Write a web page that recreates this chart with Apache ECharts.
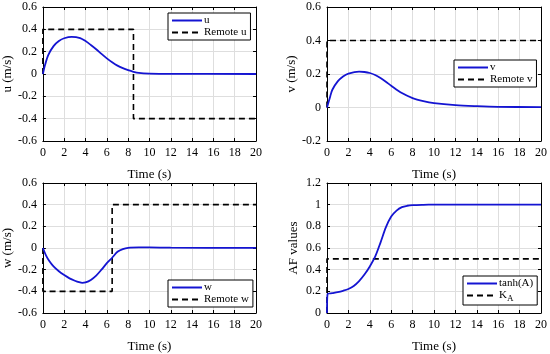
<!DOCTYPE html>
<html><head><meta charset="utf-8">
<script src="https://cdn.jsdelivr.net/npm/echarts@6/dist/echarts.min.js"></script>
<style>html,body{margin:0;padding:0;background:#fff}#c{width:550px;height:354px}</style>
</head><body><div id="c"></div>
<script>
// ---- data ----
var xTicks = [0,2,4,6,8,10,12,14,16,18,20];
var uT = [0,0.2,0.5,1,1.5,2,2.7,3.5,4,4.5,5,5.5,6,6.5,7,7.5,8,8.5,9,10,12,20];
var uV = [0,0.08,0.17,0.25,0.295,0.32,0.333,0.322,0.295,0.26,0.222,0.18,0.14,0.105,0.075,0.052,0.034,0.02,0.01,0.004,0.001,0];
var remoteUT = [0,0,8.5,8.5,20];
var remoteUV = [0,0.4,0.4,-0.4,-0.4];
var vT = [0,0.3,0.5,1,1.5,2,3,3.5,4,4.5,5,5.5,6,7,8,9,10,12,14,16,20];
var vV = [0,0.066,0.106,0.156,0.185,0.202,0.214,0.212,0.206,0.194,0.176,0.154,0.13,0.086,0.056,0.038,0.026,0.014,0.008,0.004,0.002];
var remoteVT = [0,0,20];
var remoteVV = [0,0.4,0.4];
var wT = [0,0.3,0.6,1,1.5,2,2.5,3,3.4,3.7,4,4.5,5,5.5,6,6.5,7,7.5,8,9,10,12,20];
var wV = [0,-0.07,-0.12,-0.17,-0.215,-0.25,-0.28,-0.302,-0.316,-0.322,-0.318,-0.295,-0.255,-0.2,-0.14,-0.09,-0.035,-0.01,0.002,0.005,0.005,0.003,0.001];
var remoteWT = [0,0,6.5,6.5,20];
var remoteWV = [0,-0.4,-0.4,0.4,0.4];
var aT = [0,0.05,0.5,1,1.5,2,2.5,3,3.5,4,4.5,5,5.5,6,6.5,7,7.5,8,9,10,20];
var aV = [0,0.175,0.183,0.192,0.205,0.222,0.25,0.295,0.355,0.43,0.52,0.65,0.79,0.89,0.945,0.977,0.99,0.996,0.999,1,1];
var kT = [0,0,20];
var kV = [0,0.5,0.5];
var yRanges = [[-0.6,0.6,0.2],[-0.2,0.6,0.2],[-0.6,0.6,0.2],[0,1.2,0.2]];
var yNames = ['u (m/s)','v (m/s)','w (m/s)','AF values'];

function pts(t,v){return t.map(function(x,i){return [x,v[i]];});}
var FONT = 'Liberation Serif';
var grids = [
  {left:41,top:7,width:215,height:134},
  {left:327,top:7,width:215,height:134},
  {left:41,top:183,width:215,height:132},
  {left:327,top:183,width:215,height:132}
];
var xAxes=[], yAxes=[];
grids.forEach(function(g,i){
  var common = {type:'value',gridIndex:i,min:0,max:20,interval:2,
    axisLine:{show:true,onZero:false,lineStyle:{color:'#000',width:1}},
    axisTick:{show:true,inside:true,length:3,lineStyle:{color:'#000'}}};
  xAxes.push(Object.assign({},common,{position:'bottom',name:'Time (s)',nameLocation:'middle',nameGap:27,
    nameTextStyle:{fontFamily:FONT,fontSize:13,color:'#000'},
    axisLabel:{fontFamily:FONT,fontSize:12,color:'#000',margin:6},
    splitLine:{show:true,lineStyle:{color:'#dedede',width:1}}}));
  xAxes.push(Object.assign({},common,{position:'top',axisLabel:{show:false},splitLine:{show:false}}));
  var r = yRanges[i];
  var ycommon = {type:'value',gridIndex:i,min:r[0],max:r[1],interval:r[2],
    axisLine:{show:true,onZero:false,lineStyle:{color:'#000',width:1}},
    axisTick:{show:true,inside:true,length:3,lineStyle:{color:'#000'}}};
  yAxes.push(Object.assign({},ycommon,{position:'left',name:yNames[i],nameLocation:'middle',nameGap:27,
    nameTextStyle:{fontFamily:FONT,fontSize:13,color:'#000'},
    axisLabel:{fontFamily:FONT,fontSize:12,color:'#000',margin:6,
      formatter:function(v){return String(Math.round(v*10)/10);}},
    splitLine:{show:true,lineStyle:{color:'#dedede',width:1}}}));
  yAxes.push(Object.assign({},ycommon,{position:'right',axisLabel:{show:false},splitLine:{show:false}}));
});
function solid(name,i,t,v){return {name:name,type:'line',xAxisIndex:2*i,yAxisIndex:2*i,data:pts(t,v),
  symbol:'none',smooth:0.3,lineStyle:{color:'#1414d2',width:1.8},itemStyle:{color:'#1414d2'},z:3};}
function dashed(name,i,t,v){return {name:name,type:'line',xAxisIndex:2*i,yAxisIndex:2*i,data:pts(t,v),
  symbol:'none',lineStyle:{color:'#000',width:1.6,type:[6,4]},itemStyle:{color:'#000'},z:2};}
var series = [
  solid('u',0,uT,uV), dashed('Remote u',0,remoteUT,remoteUV),
  solid('v',1,vT,vV), dashed('Remote v',1,remoteVT,remoteVV),
  solid('w',2,wT,wV), dashed('Remote w',2,remoteWT,remoteWV),
  solid('tanh(A)',3,aT,aV), dashed('K_A',3,kT,kV)
];
function leg(names,left,top){return {data:names,left:left,top:top,orient:'vertical',
  backgroundColor:'#fff',borderColor:'#000',borderWidth:1,padding:[2,4,2,3],itemGap:1,
  itemWidth:30,itemHeight:12,itemStyle:{opacity:0},
  textStyle:{fontFamily:FONT,fontSize:11,color:'#000',padding:[0,0,0,-3],
    rich:{sub:{fontFamily:FONT,fontSize:9,verticalAlign:'bottom',padding:[6,0,0,0]}}},
  formatter:function(n){return n==='K_A'?'K{sub|A}':n;}};}
var option = {
  animation:false,
  backgroundColor:'#fff',
  grid:grids,
  xAxis:xAxes,
  yAxis:yAxes,
  legend:[
    leg(['u','Remote u'],168,13),
    leg(['v','Remote v'],454,60),
    leg(['w','Remote w'],168,280),
    leg(['tanh(A)','K_A'],463,276)
  ],
  series:series
};
var chart = echarts.init(document.getElementById('c'),null,{renderer:'canvas'});
chart.setOption(option);
</script></body></html>
